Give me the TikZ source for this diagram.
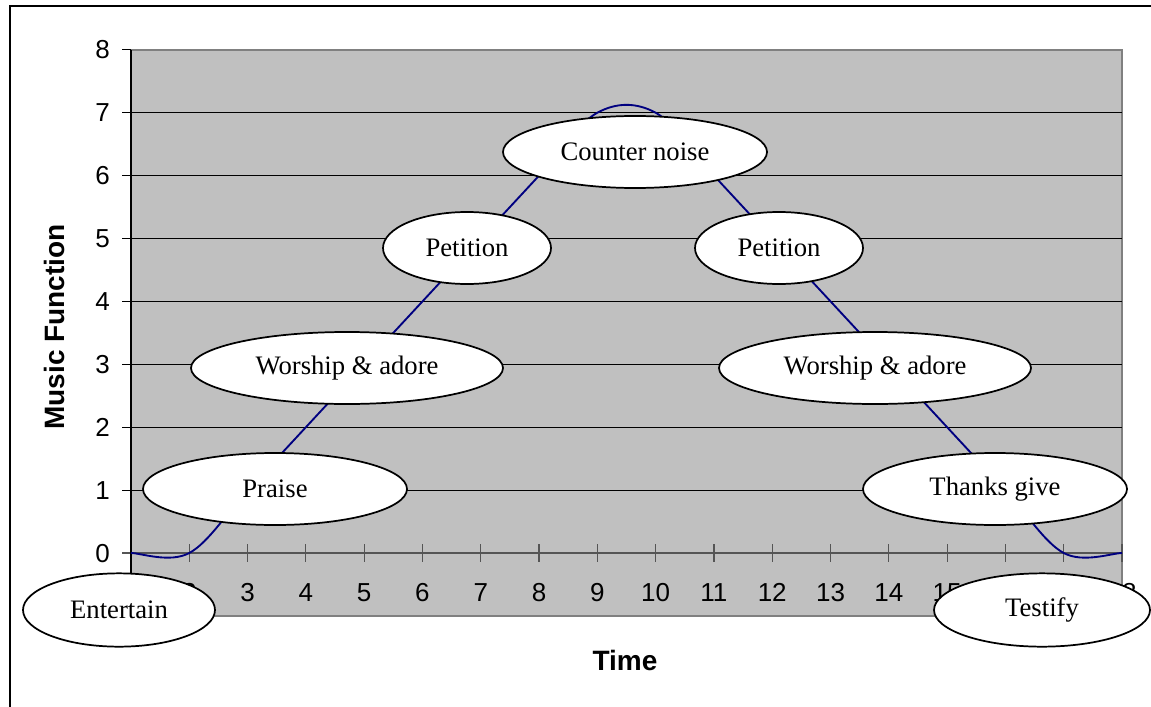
\documentclass[tikz,border=0pt]{standalone}
\usepackage{fontspec}
\setmainfont{Liberation Serif}
\newfontfamily\chartsans{Liberation Sans}
\usetikzlibrary{shapes.geometric}

\definecolor{plotgray}{HTML}{C0C0C0}
\definecolor{bordergray}{HTML}{808080}
\definecolor{axisgray}{HTML}{555555}
\definecolor{curvenavy}{HTML}{000080}

\begin{document}
\begin{tikzpicture}[x=0.75pt,y=-0.75pt,
  stage/.style={ellipse, draw=black, line width=1.3pt, fill=white,
    inner sep=0pt, minimum height=54pt,
    font=\fontsize{20}{24}\selectfont},
  ticklabel/.style={inner sep=0pt, font=\chartsans\fontsize{19.5}{22}\selectfont},
  axistitle/.style={inner sep=0pt, font=\chartsans\bfseries\fontsize{21}{24}\selectfont},
  gridline/.style={black, line width=0.75pt},
  tickmark/.style={axisgray, line width=0.9pt}]

\useasboundingbox (0,0) rectangle (1151,706);
\clip (0,0) rectangle (1151,706);

% outer chart frame (runs off the page on the right and bottom)
\draw[line width=1.5pt] (10,740) -- (10,6) -- (1180,6);

% plot in data coordinates: x from 1 to 18, y from -1 to 8
\begin{scope}[shift={(72.71,553)}, x=43.72pt, y=47.175pt]
  \fill[plotgray] (1,-1) rectangle (18,8);
  \draw[bordergray, line width=1.3pt] (1,-1) -- (18,-1) -- (18,8) -- (1,8);

  % horizontal gridlines with their ticks
  \foreach \y in {1,...,7}
    \draw[gridline] ([xshift=-6.75pt]1,\y) -- (18,\y);
  \draw[gridline] ([xshift=-6.75pt]1,8) -- (1,8);
  \draw[tickmark] ([xshift=-6.75pt]1,0) -- (1,0);

  % axes
  \draw[black, line width=0.8pt] (1,-1) -- (1,8);
  \draw[axisgray, line width=1.1pt] (1,0) -- (18,0);
  \foreach \x in {2,...,18}
    \draw[tickmark] ([yshift=-6.4pt]\x,0) -- ([yshift=6.4pt]\x,0);

  % tick labels, set on a common baseline
  \foreach \y in {0,...,8}
    \node[ticklabel, anchor=base east] (yl\y) at ([xshift=-15.75pt, yshift=-6.75pt]1,\y) {\y};
  \foreach \x in {1,...,18}
    \node[ticklabel, anchor=base] (xl\x) at ([yshift=-36pt]\x,0) {\x};

  % smoothed data line
  \draw[curvenavy, line width=1.4pt]
    (1,0) .. controls +(1/6,0) and +(-1/3,-1/6) .. (2,0)
          .. controls +(1/3,1/6) and +(-1/3,-1/3) .. (3,1)
          -- (8,6)
          .. controls +(1/3,1/3) and +(-1/3,-1/6) .. (9,7)
          .. controls +(1/3,1/6) and +(-1/3,1/6) .. (10,7)
          .. controls +(1/3,-1/6) and +(-1/3,1/3) .. (11,6)
          -- (16,1)
          .. controls +(1/3,-1/3) and +(-1/3,1/6) .. (17,0)
          .. controls +(1/3,-1/6) and +(-1/6,0) .. (18,0);
\end{scope}

% axis titles
\node[axistitle, rotate=90] (ytitle) at (54,327) {Music Function};
\node[axistitle] (xtitle) at (625,660) {Time};

% stage labels along the curve
\node[stage, minimum width=144pt, minimum height=55pt] (entertain) at (119,610) {Entertain};
\node[stage, minimum width=198pt] (praise)    at (275,489) {Praise};
\node[stage, minimum width=234pt] (worshipL)  at (347,368) {Worship \& adore};
\node[stage, minimum width=126pt] (petitionL) at (467,248) {Petition};
\node[stage, minimum width=198pt] (counter)   at (635,152) {Counter noise};
\node[stage, minimum width=126pt] (petitionR) at (779,248) {Petition};
\node[stage, minimum width=234pt] (worshipR)  at (875,368) {Worship \& adore};
\node[stage, minimum width=198pt] (thanks)    at (995,489) {Thanks give};
\node[stage, minimum width=162pt, minimum height=55pt] (testify) at (1042,610) {Testify};

\end{tikzpicture}
\end{document}
